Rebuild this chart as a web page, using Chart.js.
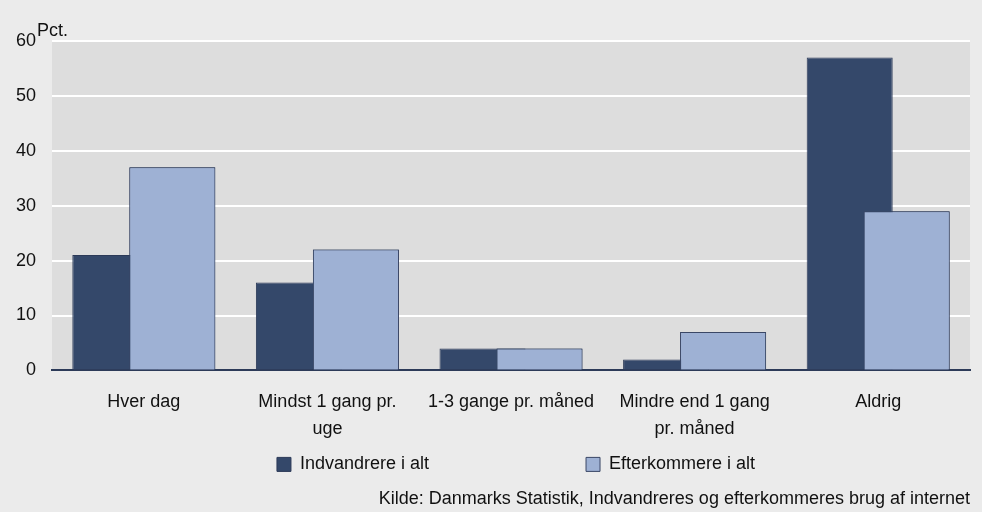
<!DOCTYPE html>
<html lang="da">

<head>
    <meta charset="UTF-8">
    <script src="https://cdn.jsdelivr.net/npm/chart.js@4.4.1/dist/chart.umd.min.js"></script>
    <title>Brug af internet</title>
    <style>
        html, body { margin: 0; padding: 0; background: #ebebeb; }
        .box_chart { width: 982px; height: 512px; }
    </style>
</head>

<body>
    <div class="box_chart">
        <canvas id="chartNet" width="982" height="512"></canvas>
    </div>
</body>

</html>
<script>
    // Kategorier og værdier (pct.)
    var kategorier = [
        'Hver dag',
        ['Mindst 1 gang pr.', 'uge'],
        '1-3 gange pr. måned',
        ['Mindre end 1 gang', 'pr. måned'],
        'Aldrig'
    ];
    var indvandrere = [21, 16, 4, 2, 57];
    var efterkommere = [37, 22, 4, 7, 29];
    var yTicks = [0, 10, 20, 30, 40, 50, 60];

    var fonte = "'Liberation Sans', Arial, sans-serif";
    var navy = '#2c3a58';
    var legendAfstand = 157;

    /* baggrund i plotområdet + enhed */
    var plotBaggrund = {
        id: 'plotBaggrund',
        beforeDraw: function (chart) {
            var a = chart.chartArea;
            var ctx = chart.ctx;
            ctx.save();
            ctx.fillStyle = '#dddddd';
            ctx.fillRect(a.left, a.top, a.right - a.left, a.bottom - a.top);
            ctx.restore();
        },
        afterDraw: function (chart) {
            var ctx = chart.ctx;
            ctx.save();
            ctx.font = '18px ' + fonte;
            ctx.fillStyle = '#111';
            ctx.textBaseline = 'alphabetic';
            ctx.fillText('Pct.', chart.chartArea.left - 15, 36);
            ctx.restore();
        }
    };

    /* efterkommere-søjlen skal ligge oven på (overlap som i Excel) */
    var overlap = {
        id: 'overlap',
        afterDatasetsDraw: function (chart) {
            chart.getDatasetMeta(1).controller.draw();
        }
    };

    /* legenden: stor vandret afstand, men uden den lodrette luft */
    var legendPlads = {
        id: 'legendPlads',
        afterLayout: function (chart) {
            var lg = chart.legend;
            lg.top -= legendAfstand + 5;
            lg.left += 5;
            lg.right += 5;
        }
    };

    var ctx = chartNet.getContext('2d');
    var myChart = new Chart(ctx, {
        type: 'bar',
        data: {
            labels: kategorier,
            datasets: [{
                label: 'Indvandrere i alt',
                data: indvandrere,
                backgroundColor: '#34486a',
                borderColor: navy,
                borderWidth: 1,
                categoryPercentage: 0.621,
                barPercentage: 1.509
            }, {
                label: 'Efterkommere i alt',
                data: efterkommere,
                backgroundColor: '#9eb1d4',
                borderColor: '#3a4766',
                borderWidth: 1,
                categoryPercentage: 0.621,
                barPercentage: 1.509
            }]
        },
        options: {
            responsive: false,
            animation: false,
            layout: {
                padding: { top: 41, left: 0, right: 12, bottom: 2 }
            },
            font: { family: fonte, size: 18 },
            scales: {
                x: {
                    grid: { display: false, drawTicks: false },
                    border: { display: true, color: navy, width: 2 },
                    ticks: {
                        color: '#111',
                        padding: 18,
                        maxRotation: 0,
                        autoSkip: false,
                        font: { family: fonte, size: 18, lineHeight: 1.5 }
                    }
                },
                y: {
                    min: 0,
                    max: 60,
                    afterBuildTicks: function (axis) {
                        axis.ticks = yTicks.map(function (v) { return { value: v }; });
                    },
                    border: { display: false },
                    grid: {
                        drawTicks: false,
                        lineWidth: 2,
                        color: function (c) { return c.tick && c.tick.value === 0 ? navy : '#ffffff'; }
                    },
                    ticks: {
                        color: '#111',
                        padding: 16,
                        font: { family: fonte, size: 18 }
                    }
                }
            },
            plugins: {
                legend: {
                    position: 'bottom',
                    fullSize: false,
                    maxHeight: 28,
                    labels: {
                        color: '#111',
                        boxWidth: 14,
                        boxHeight: 14,
                        padding: legendAfstand,
                        font: { family: fonte, size: 18 }
                    }
                },
                title: {
                    display: true,
                    position: 'bottom',
                    align: 'end',
                    fullSize: false,
                    text: 'Kilde: Danmarks Statistik, Indvandreres og efterkommeres brug af internet',
                    color: '#111',
                    font: { family: fonte, size: 18, weight: 'normal' },
                    padding: { top: 0, bottom: 0 }
                },
                tooltip: { enabled: false }
            }
        },
        plugins: [plotBaggrund, overlap, legendPlads]
    });
</script>
